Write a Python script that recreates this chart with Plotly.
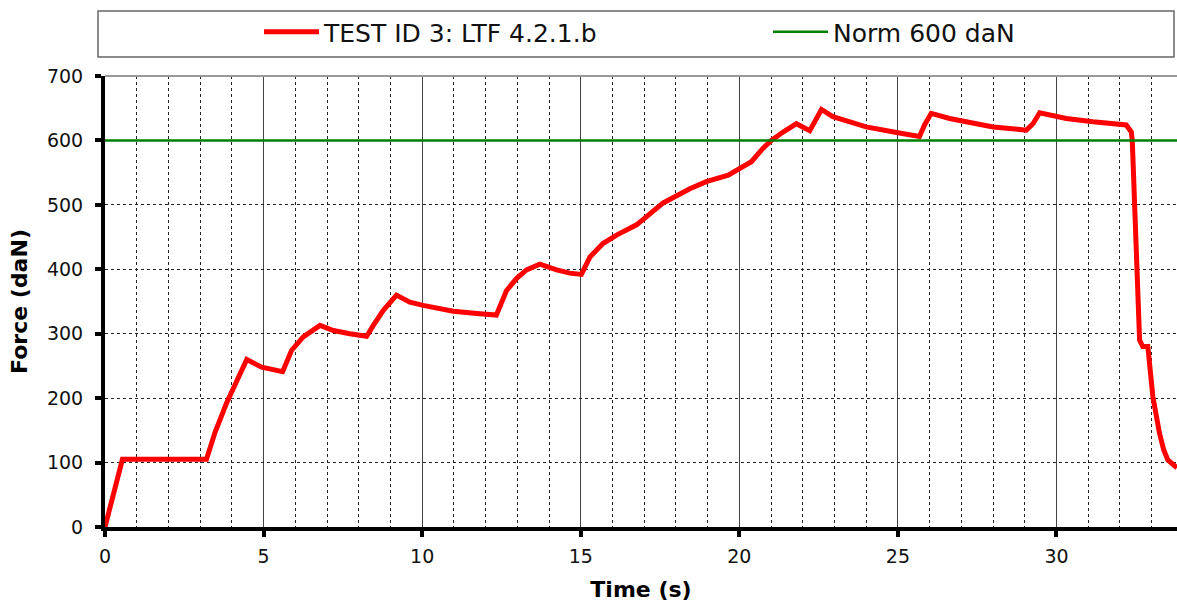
import plotly.graph_objects as go

# Test curve: time (s) and force (daN)
time_s = [0, 0.55, 3.2, 3.47, 3.83, 4.15, 4.47, 4.94, 5.6, 5.88, 6.25, 6.78, 7.2, 7.72,
          8.25, 8.46, 8.77, 9.19, 9.61, 10.03, 10.98, 11.82, 12.34, 12.66, 12.98, 13.29,
          13.71, 14.24, 14.65, 15.02, 15.29, 15.7, 16.13, 16.76, 17.18, 17.6, 18.44, 18.96,
          19.65, 20.02, 20.38, 20.75, 21.01, 21.38, 21.8, 22.22, 22.43, 22.59, 22.95, 24.0,
          25.0, 25.68, 25.84, 26.05, 26.63, 28.0, 29.05, 29.26, 29.47, 30.31, 31.15, 32.2,
          32.36, 32.39, 32.62, 32.72, 32.88, 33.04, 33.25, 33.38, 33.51, 33.8]
force_daN = [0, 105, 105, 147, 192, 225, 260, 248, 241, 274, 295, 313, 305, 300,
             296, 313, 336, 360, 349, 344, 335, 331, 329, 367, 386, 399,
             408, 399, 394, 392, 419, 440, 453, 469, 487, 503, 525, 536,
             546, 557, 567, 588, 600, 613, 626, 615, 634, 648, 637, 621,
             612, 606, 624, 642, 634, 621, 616, 626, 643, 634, 629, 624,
             613, 600, 290, 280, 280, 202, 145, 120, 104, 92]

# Norm line
norm_t = [0, 33.8]
norm_F = [600, 600]

x_ticks = [0, 5, 10, 15, 20, 25, 30]
y_ticks = [0, 100, 200, 300, 400, 500, 600, 700]

FONT = "DejaVu Sans"
W, H = 1177, 602

fig = go.Figure()
fig.add_trace(go.Scatter(x=time_s, y=force_daN, mode="lines",
                         name="TEST ID 3: LTF 4.2.1.b",
                         line=dict(color="#FF0000", width=5), legend="legend"))
fig.add_trace(go.Scatter(x=norm_t, y=norm_F, mode="lines", name="Norm 600 daN",
                         line=dict(color="#008000", width=2.5), legend="legend2"))

leg_common = dict(yref="container", xref="container", y=1 - 32 / H, yanchor="middle",
                  orientation="h", font=dict(family=FONT, size=25, color="#111"),
                  bgcolor="rgba(0,0,0,0)", itemwidth=55)

fig.update_layout(
    width=W, height=H,
    margin=dict(l=105, r=0, t=76, b=75, autoexpand=False),
    paper_bgcolor="white", plot_bgcolor="white",
    font=dict(family=FONT, size=19, color="#111"),
    showlegend=True,
    legend=dict(x=259 / W, xanchor="left", **leg_common),
    legend2=dict(x=768 / W, xanchor="left", **leg_common),
    xaxis=dict(range=[0, 33.8], tickvals=x_ticks, showgrid=True, gridcolor="#444",
               gridwidth=1, zeroline=False, showline=True, linecolor="black", linewidth=4,
               ticks="outside", ticklen=6, tickwidth=4, tickcolor="black",
               ticklabelstandoff=3, automargin=False,
               minor=dict(dtick=1, tick0=0, showgrid=True, gridcolor="#222", griddash="dot",
                          gridwidth=1, ticks=""),
               title=dict(text="<b>Time (s)</b>", font=dict(family=FONT, size=22, color="black"),
                          standoff=21)),
    yaxis=dict(range=[0, 700], tickvals=y_ticks, showgrid=True, gridcolor="#222",
               griddash="dot", gridwidth=1, zeroline=False, showline=True,
               linecolor="black", linewidth=4, ticks="outside", ticklen=6, tickwidth=4,
               tickcolor="black", ticklabelstandoff=8, automargin=False,
               title=dict(text="<b>Force (daN)</b>", font=dict(family=FONT, size=22, color="black"),
                          standoff=14)),
    shapes=[
        dict(type="line", xref="paper", yref="paper", x0=0, x1=1, y0=1, y1=1,
             line=dict(color="#999", width=2), layer="above"),
        dict(type="rect", xref="paper", yref="paper",
             x0=(98 - 105) / 1072, x1=(1174 - 105) / 1072,
             y0=(527 - 57) / 451, y1=(527 - 11) / 451,
             line=dict(color="#666", width=1.5), fillcolor="rgba(0,0,0,0)"),
    ],
)

fig.write_html("out.html", config={"displayModeBar": False},
               post_script="document.body.style.margin='0';document.body.style.overflow='hidden';")
